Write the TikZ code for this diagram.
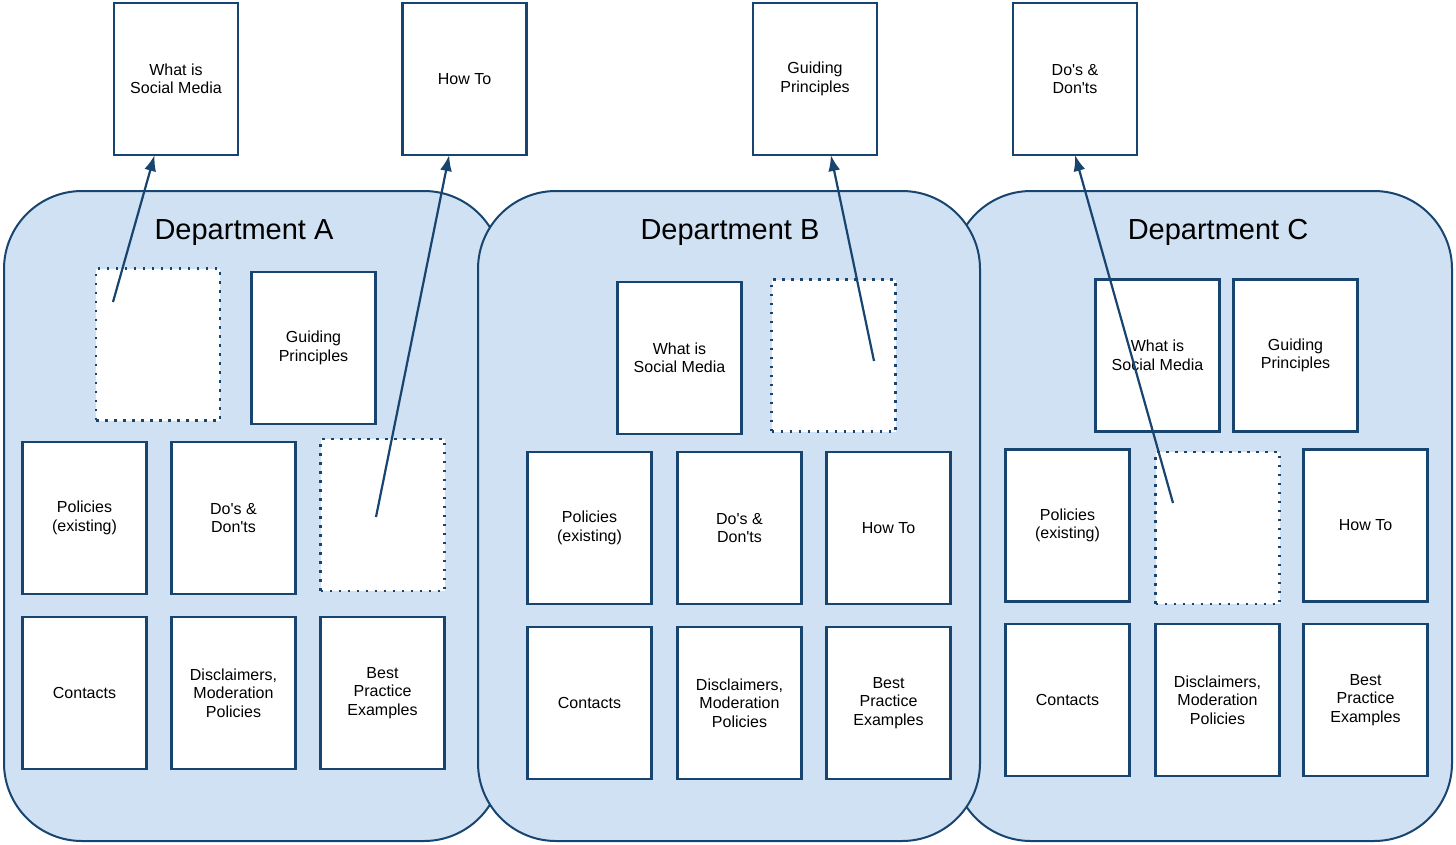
\documentclass[tikz,border=0pt]{standalone}
\usepackage{fontspec}
\setmainfont{Liberation Sans}
\usepackage{tkz-graph}
\usetikzlibrary{arrows}
\usetikzlibrary{arrows.meta}
\usetikzlibrary{shapes}
\definecolor{deptBlue}{RGB}{207,225,242}
\definecolor{lineBlue}{RGB}{24,68,112}

\begin{document}
\begin{tikzpicture}[x = 1pt, y = -1pt, font = \fontsize{16}{18.5}\selectfont]
	\tikzstyle{VertexStyle} = []
	\tikzstyle{EdgeStyle} = [draw = lineBlue, line width = 2.2pt, -{Latex[length = 16pt, width = 12pt]}]
	\tikzstyle{deptStyle} = [shape = rectangle, draw = lineBlue, fill = deptBlue, line width = 2pt, rounded corners = 78pt, minimum height = 650pt, inner sep = 0pt]
	\tikzstyle{titleStyle} = [anchor = base, font = \fontsize{29}{33}\selectfont]
	\tikzstyle{pageStyle} = [shape = rectangle, draw = lineBlue, fill = white, line width = 2.6pt, minimum width = 124pt, minimum height = 152pt, inner sep = 0pt, align = center]
	\tikzstyle{emptyStyle} = [pageStyle, dash pattern = on 2.5pt off 6.5pt]
	\useasboundingbox (0, 0) rectangle (1456, 844);
	\node[deptStyle, minimum width = 498pt] (deptA) at (253, 516) {};
	\node[deptStyle, minimum width = 499pt] (deptC) at (1202.5, 516) {};
	\node[deptStyle, minimum width = 502pt] (deptB) at (729, 516) {};
	\node[titleStyle] (titleA) at (244, 239) {Department A};
	\node[titleStyle] (titleB) at (730, 239) {Department B};
	\node[titleStyle] (titleC) at (1218, 239) {Department C};
	\Vertex[style = pageStyle, x = 176, y = 79, L = {What is\\Social Media}]{topWhat}
	\Vertex[style = pageStyle, x = 464.5, y = 79, L = {How To}]{topHow}
	\Vertex[style = pageStyle, x = 815, y = 79, L = {Guiding\\Principles}]{topGuide}
	\Vertex[style = pageStyle, x = 1075, y = 79, L = {Do\textquotesingle s \&\\Don\textquotesingle ts}]{topDos}
	\Vertex[style = emptyStyle, x = 158, y = 344.5, L = {\relax}]{emptyA1}
	\Vertex[style = pageStyle, x = 313.5, y = 348, L = {Guiding\\Principles}]{guideA}
	\Vertex[style = pageStyle, x = 84.5, y = 518, L = {Policies\\(existing)}]{polA}
	\Vertex[style = pageStyle, x = 233.5, y = 518, L = {Do\textquotesingle s \&\\Don\textquotesingle ts}]{dosA}
	\Vertex[style = emptyStyle, x = 382.5, y = 515, L = {\relax}]{emptyA2}
	\Vertex[style = pageStyle, x = 84.5, y = 693, L = {Contacts}]{contA}
	\Vertex[style = pageStyle, x = 233.5, y = 693, L = {Disclaimers,\\Moderation\\Policies}]{discA}
	\Vertex[style = pageStyle, x = 382.5, y = 693, L = {Best\\Practice\\Examples}]{bestA}
	\Vertex[style = pageStyle, x = 679.5, y = 358, L = {What is\\Social Media}]{whatB}
	\Vertex[style = emptyStyle, x = 833.5, y = 355.5, L = {\relax}]{emptyB}
	\Vertex[style = pageStyle, x = 589.5, y = 528, L = {Policies\\(existing)}]{polB}
	\Vertex[style = pageStyle, x = 739.5, y = 528, L = {Do\textquotesingle s \&\\Don\textquotesingle ts}]{dosB}
	\Vertex[style = pageStyle, x = 888.5, y = 528, L = {How To}]{howB}
	\Vertex[style = pageStyle, x = 589.5, y = 703, L = {Contacts}]{contB}
	\Vertex[style = pageStyle, x = 739.5, y = 703, L = {Disclaimers,\\Moderation\\Policies}]{discB}
	\Vertex[style = pageStyle, x = 888.5, y = 703, L = {Best\\Practice\\Examples}]{bestB}
	\Vertex[style = pageStyle, x = 1157.5, y = 355.5, L = {What is\\Social Media}]{whatC}
	\Vertex[style = pageStyle, x = 1295.5, y = 355.5, L = {Guiding\\Principles}]{guideC}
	\Vertex[style = pageStyle, x = 1067.5, y = 525.5, L = {Policies\\(existing)}]{polC}
	\Vertex[style = emptyStyle, x = 1217.5, y = 528, L = {\relax}]{emptyC}
	\Vertex[style = pageStyle, x = 1365.5, y = 525.5, L = {How To}]{howC}
	\Vertex[style = pageStyle, x = 1067.5, y = 700, L = {Contacts}]{contC}
	\Vertex[style = pageStyle, x = 1217.5, y = 700, L = {Disclaimers,\\Moderation\\Policies}]{discC}
	\Vertex[style = pageStyle, x = 1365.5, y = 700, L = {Best\\Practice\\Examples}]{bestC}
	\coordinate (fromA1) at (113, 302);
	\coordinate (fromA2) at (376, 517);
	\coordinate (fromB) at (874, 361);
	\coordinate (fromC) at (1173, 503);
	\draw[EdgeStyle] (fromA1) -- (topWhat);
	\draw[EdgeStyle] (fromA2) -- (topHow);
	\draw[EdgeStyle] (fromB) -- (topGuide);
	\draw[EdgeStyle] (fromC) -- (topDos.south);
\end{tikzpicture}
\end{document}
